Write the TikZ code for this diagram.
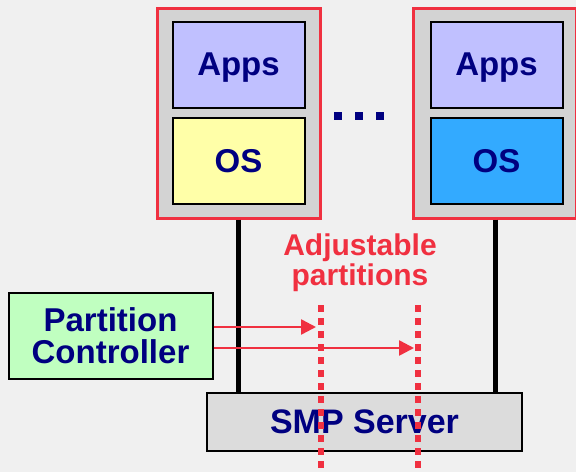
\documentclass[tikz,border=0pt]{standalone}
\usepackage{fontspec}
\setmainfont{Liberation Sans}
\usetikzlibrary{arrows.meta}
\definecolor{navy}{RGB}{0,0,128}
\definecolor{bg}{RGB}{240,240,240}
\definecolor{redc}{RGB}{240,48,64}
\definecolor{partgray}{RGB}{211,211,211}
\definecolor{appsc}{RGB}{192,192,255}
\definecolor{osy}{RGB}{255,255,168}
\definecolor{osb}{RGB}{51,170,255}
\definecolor{ctrlg}{RGB}{192,255,192}
\definecolor{smpg}{RGB}{220,220,220}
\tikzset{
  part/.style={draw=redc, line width=3pt, fill=partgray, minimum width=163pt, minimum height=210pt, inner sep=0pt},
  inbox/.style={draw=black, line width=2pt, minimum width=132pt, minimum height=86pt, inner sep=0pt,
    text=navy, text depth=0pt, font=\fontsize{33}{32}\selectfont\bfseries},
  vline/.style={line width=5pt, black},
  arr/.style={draw=redc, line width=2.5pt, -{Triangle[length=15pt,width=15pt]}},
  dotl/.style={draw=redc, line width=6pt, dash pattern=on 7pt off 6pt},
  dotsq/.style={fill=navy, minimum size=8pt, inner sep=0pt},
}
\begin{document}
\begin{tikzpicture}[x=1pt,y=-1pt]
\fill[bg] (0,0) rectangle (576,472);
\useasboundingbox (0,0) rectangle (576,472);
% partitions
\node[part] (p1) at (238.5,113) {};
\node[part] (p2) at (495,113) {};
\node[inbox, fill=appsc] (a1) at (238.5,64.5) {Apps};
\node[inbox, fill=osy] (o1) at (238.5,161) {OS};
\node[inbox, fill=appsc] (a2) at (496.5,64.5) {Apps};
\node[inbox, fill=osb] (o2) at (496.5,161) {OS};
% dots
\node[dotsq] (d1) at (338,116) {};
\node[dotsq] (d2) at (359,116) {};
\node[dotsq] (d3) at (380,116) {};
% SMP server
\node[draw=black, line width=2pt, fill=smpg, minimum width=315pt, minimum height=58pt, inner sep=0pt,
  text=navy, font=\fontsize{34}{32}\selectfont\bfseries] (smp) at (364.5,421.5) {SMP Server};
% vertical lines
\draw[vline] (p1.south) -- (p1.south |- smp.north);
\draw[vline] (p2.south) -- (p2.south |- smp.north);
% controller
\node[draw=black, line width=2pt, fill=ctrlg, minimum width=204pt, minimum height=86pt, inner sep=0pt,
  text=navy, font=\fontsize{33}{32}\selectfont\bfseries, align=center] (ctrl) at (110.5,335.5) {Partition\\Controller};
% label
\node[text=redc, font=\fontsize{30}{30}\selectfont\bfseries, align=center] (lab) at (360,263) {Adjustable\\partitions};
% dotted partition lines
\coordinate (t1) at (321,305);
\coordinate (b1) at (321,472);
\coordinate (t2) at (418,305);
\coordinate (b2) at (418,472);
\draw[dotl] (t1) -- (b1);
\draw[dotl] (t2) -- (b2);
% arrows
\coordinate (e1) at (316,327);
\coordinate (e2) at (414,348);
\draw[arr] (ctrl.east |- e1) -- (e1);
\draw[arr] (ctrl.east |- e2) -- (e2);
\end{tikzpicture}
\end{document}
